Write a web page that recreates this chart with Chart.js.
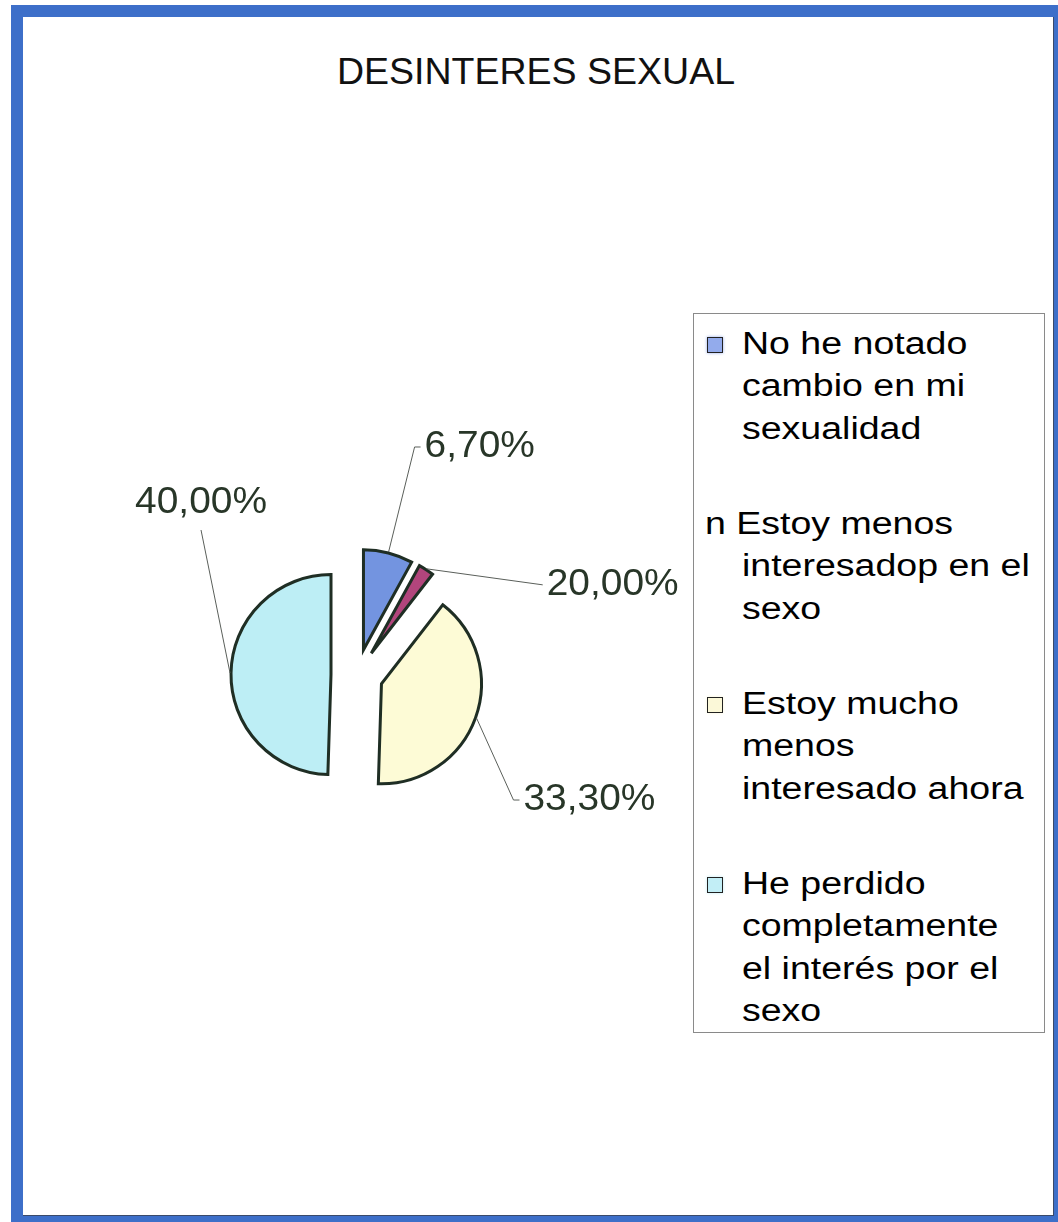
<!DOCTYPE html>
<html>
<head>
<meta charset="utf-8">
<script src="https://cdn.jsdelivr.net/npm/chart.js@4.4.1/dist/chart.umd.min.js"></script>
<style>
  html, body { margin: 0; padding: 0; background: #fff; }
  body { width: 1058px; height: 1222px; position: relative; overflow: hidden; font-family: "Liberation Sans", Arial, sans-serif; }
  #frame { position: absolute; left: 11px; top: 5px; width: 1031px; height: 1199px;
           border-style: solid; border-color: #3d6fc9; border-width: 12px 10px 6px 12px; }
  #frame::after { content: ""; position: absolute; right: 0; bottom: 0; left: 0; top: 0;
           border-right: 1px solid #3a4a6a; border-bottom: 1px solid #3a4a6a; }
  #title { position: absolute; left: 236px; width: 600px; top: 53px; text-align: center;
           font-size: 37.5px; line-height: 1; color: #111; }
  #chart { position: absolute; left: 0; top: 0; }
  #legend { position: absolute; left: 693px; top: 313px; width: 350px; height: 718px;
            border: 1px solid #8a8a8a; background: #fff; }
  .line { position: absolute; font-size: 31px; line-height: 42.5px; white-space: nowrap; color: #000;
          transform: scaleX(1.21); transform-origin: left top; }
  .mark { position: absolute; width: 14px; height: 14px; border: 1.5px solid #222; }
</style>
</head>
<body>
<div id="frame"></div>
<div id="title">DESINTERES SEXUAL</div>
<canvas id="chart" width="1058" height="1222"></canvas>
<div id="legend"></div>
<script>
// categories as they wrap in the legend box
const categories = [
    ['No he notado', 'cambio en mi', 'sexualidad'],
    ['Estoy menos', 'interesadop en el', 'sexo'],
    ['Estoy mucho', 'menos', 'interesado ahora'],
    ['He perdido', 'completamente', 'el interés por el', 'sexo']
];
// slice sizes as drawn (percent of the circle)
const sliceValues = [8, 2.5, 40, 49.5];
// percentages printed next to the slices
const percentLabels = ['6,70%', '20,00%', '33,30%', '40,00%'];

const sliceColors = ['#7394e0', '#b2457c', '#fdfbd6', '#bdeef5'];
const markColors = ['#93abec', null, '#fbf8d8', '#c2eef6'];

// legend box (html, the scan wraps the labels by hand)
const legend = document.getElementById('legend');
categories.forEach((lines, i) => {
    const top = 8.7 + i * 180;
    if (markColors[i]) {
        const m = document.createElement('div');
        m.className = 'mark';
        m.style.left = '13px';
        m.style.top = (top + 32.3 - 18) + 'px';
        m.style.background = markColors[i];
        m.style.boxShadow = '0 0 3px ' + markColors[i];
        legend.appendChild(m);
    }
    lines.forEach((txt, j) => {
        const d = document.createElement('div');
        d.className = 'line';
        const first = j === 0 && !markColors[i];
        d.textContent = first ? 'n ' + txt : txt;
        d.style.left = (first ? 11 : 48) + 'px';
        d.style.top = (top + j * 42.5) + 'px';
        legend.appendChild(d);
    });
});

const EXPLODE = 26;

// draws every arc pushed out along its own bisector
const explodePlugin = {
    id: 'explode',
    beforeDatasetDraw(chart, args) {
        const ctx = chart.ctx;
        args.meta.data.forEach(arc => {
            const h = (arc.startAngle + arc.endAngle) / 2;
            ctx.save();
            ctx.translate(Math.cos(h) * EXPLODE, Math.sin(h) * EXPLODE);
            arc.draw(ctx);
            ctx.restore();
        });
        return false;
    }
};

// leader lines + percent text
const leaders = [
    { dx: 26, dy: -105, tick: 6, align: 'left' },
    { dx: 116, dy: 16, tick: 0, align: 'left' },
    { dx: 37, dy: 82, tick: 6, align: 'left' },
    { dx: -29, dy: -143, tick: 0, align: 'above' }
];

const labelPlugin = {
    id: 'pctLabels',
    afterDatasetsDraw(chart) {
        const ctx = chart.ctx;
        const meta = chart.getDatasetMeta(0);
        meta.data.forEach((arc, i) => {
            const h = (arc.startAngle + arc.endAngle) / 2;
            const cx = arc.x + Math.cos(h) * EXPLODE;
            const cy = arc.y + Math.sin(h) * EXPLODE;
            const ax = cx + Math.cos(h) * (arc.outerRadius + 1);
            const ay = cy + Math.sin(h) * (arc.outerRadius + 1);
            const L = leaders[i];
            const ex = ax + L.dx, ey = ay + L.dy;
            ctx.save();
            ctx.strokeStyle = '#5a5f5a';
            ctx.lineWidth = 1;
            ctx.beginPath();
            ctx.moveTo(ax, ay);
            ctx.lineTo(ex, ey);
            if (L.tick) ctx.lineTo(ex + L.tick, ey);
            ctx.stroke();
            ctx.font = '36px "Liberation Sans", Arial, sans-serif';
            ctx.fillStyle = '#283628';
            ctx.textBaseline = 'middle';
            if (L.align === 'above') {
                ctx.translate(ex, ey - 27);
                ctx.scale(1.08, 1);
                ctx.textAlign = 'center';
                ctx.fillText(percentLabels[i], 0, 0);
            } else {
                ctx.translate(ex + L.tick + 4, ey);
                ctx.scale(1.08, 1);
                ctx.textAlign = 'left';
                ctx.fillText(percentLabels[i], 0, 0);
            }
            ctx.restore();
        });
    }
};

new Chart(document.getElementById('chart'), {
    type: 'pie',
    data: {
        labels: categories.map(l => l.join(' ')),
        datasets: [{
            data: sliceValues,
            backgroundColor: sliceColors,
            borderColor: '#1f2e24',
            borderWidth: 3,
            borderJoinStyle: 'miter'
        }]
    },
    options: {
        responsive: false,
        animation: false,
        radius: 100,
        layout: { padding: { left: 100, right: 444, top: 475, bottom: 347 } },
        plugins: { legend: { display: false }, tooltip: { enabled: false }, title: { display: false } }
    },
    plugins: [explodePlugin, labelPlugin]
});
</script>
</body>
</html>
